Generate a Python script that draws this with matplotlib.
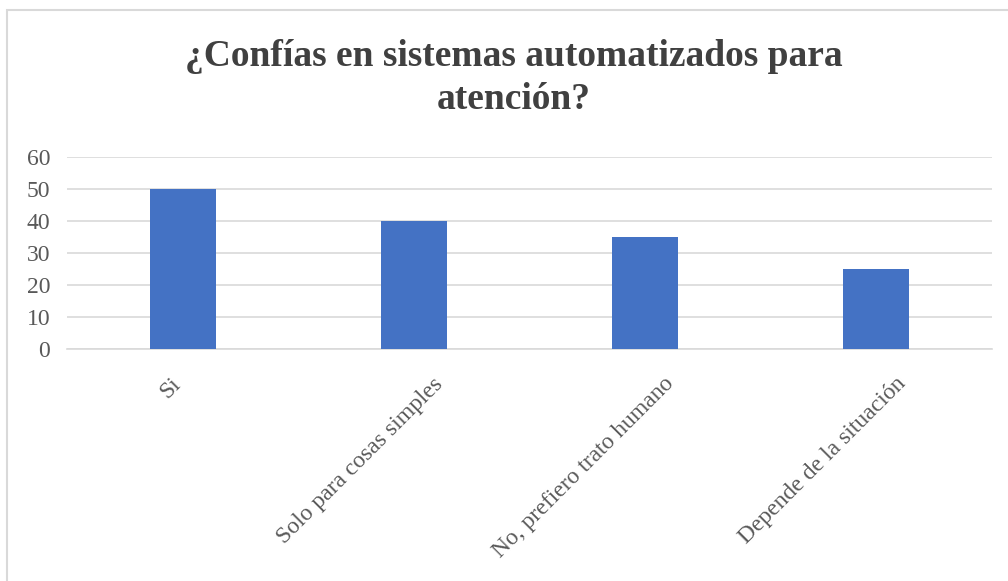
import matplotlib
matplotlib.use("Agg")
import matplotlib.pyplot as plt
from matplotlib.patches import Rectangle
from matplotlib.transforms import ScaledTranslation

categories = ["Si", "Solo para cosas simples", "No, prefiero trato humano", "Depende de la situación"]
values = [50, 40, 35, 25]
title = "¿Confías en sistemas automatizados para\natención?"

SERIF = ['Liberation Serif', 'DejaVu Serif']
plt.rcParams['font.family'] = SERIF

W, H = 1008, 581
fig = plt.figure(figsize=(W/100, H/100), dpi=100)

# chart border
fig.patches.append(Rectangle((7/W, -0.05), 1.2, 1 - 10/H + 0.05, transform=fig.transFigure,
                             fill=False, edgecolor='#d9d9d9', linewidth=1.5, zorder=0))

left, right = 67/W, 992/W
bottom, top = 1 - 349/H, 1 - 157/H
ax = fig.add_axes([left, bottom, right-left, top-bottom])
x = list(range(len(categories)))
ax.bar(x, values, width=0.285, color='#4472C4', zorder=3)
ax.set_xlim(-0.5, len(categories)-0.5)
ax.set_ylim(0, 60)
ax.set_yticks(range(0, 61, 10))
ax.grid(axis='y', color='#d9d9d9', linewidth=1.2, zorder=0)
for s in ['top', 'right', 'left']:
    ax.spines[s].set_visible(False)
ax.spines['bottom'].set_color('#d9d9d9')
ax.spines['bottom'].set_linewidth(1.2)
ax.tick_params(axis='both', length=0, labelsize=17, labelcolor='#595959')
ax.tick_params(axis='y', pad=12)
ax.set_xticks(x)
ax.set_xticklabels(categories, rotation=45, ha='right', va='center', rotation_mode='anchor',
                   family=SERIF)
ax.tick_params(axis='x', pad=23)
for lab in ax.get_yticklabels():
    lab.set_family(SERIF)
for i, lab in enumerate(ax.get_xticklabels()):
    dx = -0.05 if i == 0 else 0.26
    lab.set_transform(lab.get_transform() + ScaledTranslation(dx, 0, fig.dpi_scale_trans))

fig.text(514/W, 1 - 78/H, title, ha='center', va='center', fontsize=27, fontweight='bold',
         color='#404040', linespacing=1.3, family=SERIF)

fig.savefig("out.png", dpi=100)
